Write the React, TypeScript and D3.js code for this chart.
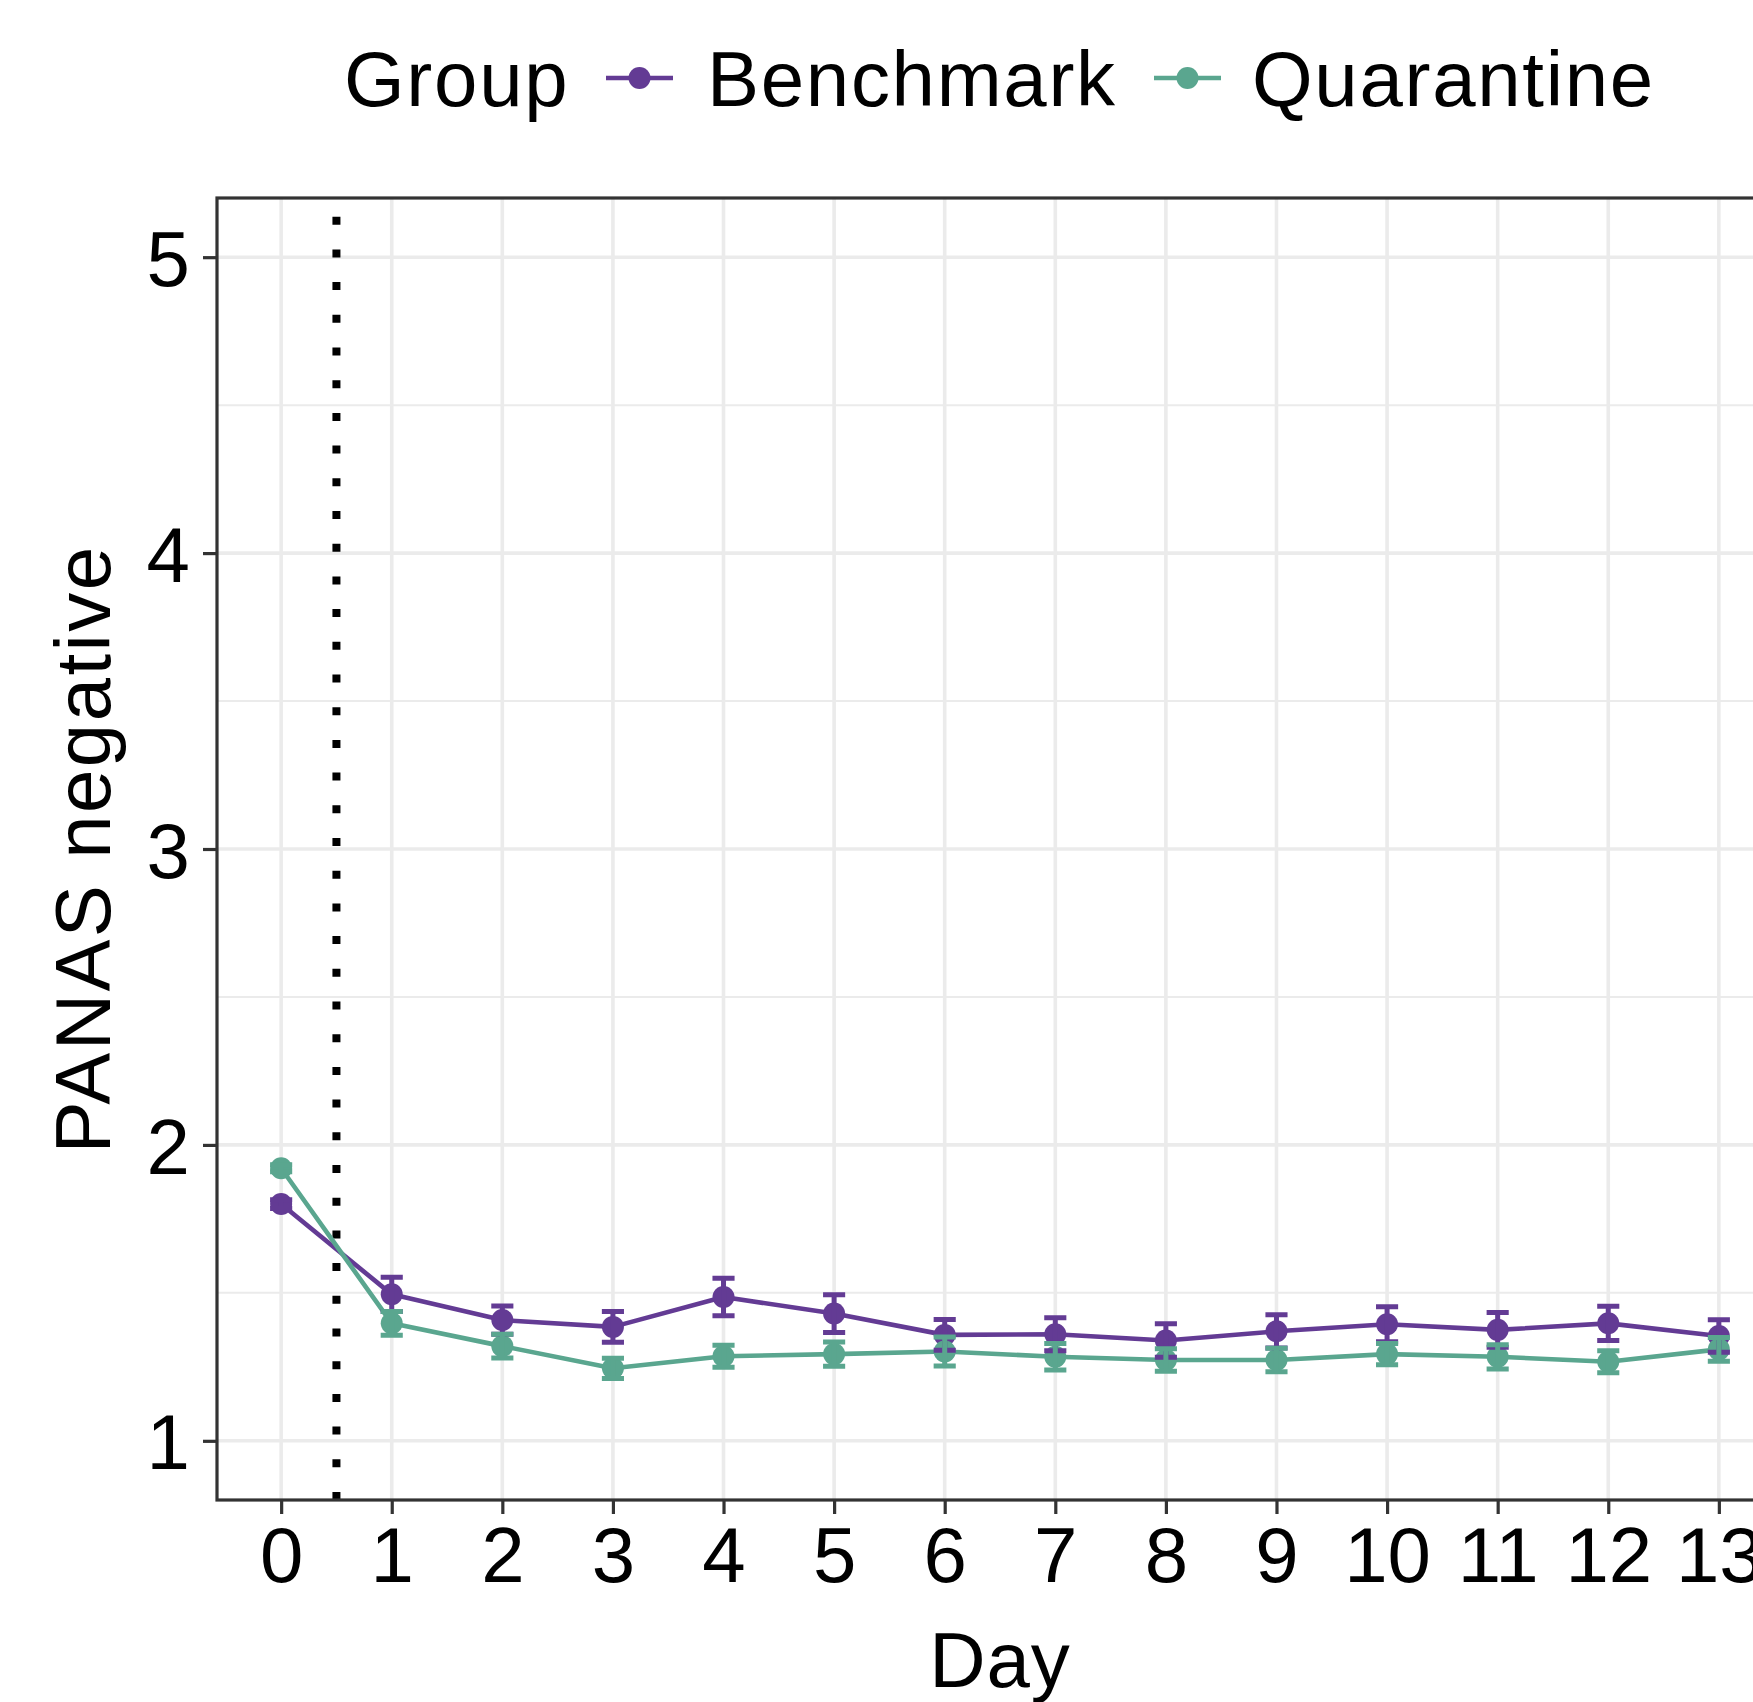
import React, { useEffect, useRef } from 'react';
import * as d3 from 'd3';

// Days on the x axis
const days = [0, 1, 2, 3, 4, 5, 6, 7, 8, 9, 10, 11, 12, 13];

// Mean PANAS negative score per day, with standard errors
const benchmarkMean = [1.8, 1.495, 1.408, 1.385, 1.486, 1.43, 1.358, 1.36, 1.339, 1.37, 1.394, 1.375, 1.397, 1.354];
const benchmarkSe = [0.015, 0.058, 0.048, 0.052, 0.063, 0.064, 0.052, 0.056, 0.057, 0.056, 0.059, 0.059, 0.058, 0.055];
const quarantineMean = [1.921, 1.397, 1.32, 1.245, 1.286, 1.293, 1.302, 1.284, 1.273, 1.273, 1.293, 1.284, 1.267, 1.309];
const quarantineSe = [0.012, 0.04, 0.04, 0.034, 0.037, 0.041, 0.049, 0.045, 0.038, 0.04, 0.036, 0.041, 0.037, 0.04];

const yTicks = [1, 2, 3, 4, 5];
const yMinor = [1.5, 2.5, 3.5, 4.5];

const groups = ['Benchmark', 'Quarantine'];
const colors = ['#633b94', '#5aa68f'];

const W = 1753;
const H = 1702;
const FONT = "'Liberation Sans', Arial, Helvetica, sans-serif";

export default function App() {
  const ref = useRef<SVGSVGElement>(null);

  useEffect(() => {
    const svg = d3.select(ref.current);
    svg.selectAll('*').remove();

    const left = 217;
    const top = 198;
    const bottom = 1500;
    const right = 1783;

    const x = d3.scalePoint<number>().domain(days).range([left, right]).padding(0.58);
    const y = d3.scaleLinear().domain([0.8, 5.2]).range([bottom, top]);
    const step = x.step();

    const series = [
      { name: groups[0], color: colors[0], mean: benchmarkMean, se: benchmarkSe },
      { name: groups[1], color: colors[1], mean: quarantineMean, se: quarantineSe },
    ];

    svg.append('rect').attr('width', W).attr('height', H).attr('fill', 'white');

    // grid
    const grid = svg.append('g');
    grid.selectAll('.minor')
      .data(yMinor)
      .enter()
      .append('line')
        .attr('x1', left).attr('x2', right)
        .attr('y1', d => y(d)).attr('y2', d => y(d))
        .attr('stroke', '#ebebeb').attr('stroke-width', 2);
    grid.selectAll('.majorY')
      .data(yTicks)
      .enter()
      .append('line')
        .attr('x1', left).attr('x2', right)
        .attr('y1', d => y(d)).attr('y2', d => y(d))
        .attr('stroke', '#ebebeb').attr('stroke-width', 3.6);
    grid.selectAll('.majorX')
      .data(days)
      .enter()
      .append('line')
        .attr('x1', d => x(d)!).attr('x2', d => x(d)!)
        .attr('y1', top).attr('y2', bottom)
        .attr('stroke', '#ebebeb').attr('stroke-width', 3.6);

    // dotted line between day 0 and day 1
    const vx = (x(0)! + x(1)!) / 2;
    svg.append('line')
      .attr('x1', vx).attr('x2', vx)
      .attr('y1', bottom).attr('y2', top)
      .attr('stroke', 'black')
      .attr('stroke-width', 8)
      .attr('stroke-dasharray', '8 24.7');

    const line = d3.line<number>()
      .x((d, i) => x(days[i])!)
      .y(d => y(d));

    series.forEach(s => {
      svg.append('path')
        .attr('d', line(s.mean))
        .attr('fill', 'none')
        .attr('stroke', s.color)
        .attr('stroke-width', 4.6)
        .attr('stroke-linejoin', 'round');
    });

    series.forEach(s => {
      svg.append('g')
        .selectAll('circle')
        .data(s.mean)
        .enter()
        .append('circle')
          .attr('cx', (d, i) => x(days[i])!)
          .attr('cy', d => y(d))
          .attr('r', 11)
          .attr('fill', s.color);
    });

    const cap = step * 0.1;
    series.forEach(s => {
      const g = svg.append('g')
        .attr('stroke', s.color)
        .attr('stroke-width', 5)
        .attr('fill', 'none');
      s.mean.forEach((m, i) => {
        const cx = x(days[i])!;
        const lo = y(m - s.se[i]);
        const hi = y(m + s.se[i]);
        g.append('path')
          .attr('d', `M${cx - cap},${hi}H${cx + cap}M${cx},${hi}V${lo}M${cx - cap},${lo}H${cx + cap}`);
      });
    });

    // panel border
    svg.append('rect')
      .attr('x', left).attr('y', top)
      .attr('width', right - left).attr('height', bottom - top)
      .attr('fill', 'none')
      .attr('stroke', '#333333')
      .attr('stroke-width', 3.2);

    // axes
    const xAxis = d3.axisBottom(x).tickSize(14).tickPadding(13).tickSizeOuter(0);
    const gx = svg.append('g')
      .attr('transform', `translate(0,${bottom})`)
      .call(xAxis);
    const yAxis = d3.axisLeft(y)
      .tickValues(yTicks)
      .tickFormat(d3.format('d'))
      .tickSize(14)
      .tickPadding(13)
      .tickSizeOuter(0);
    const gy = svg.append('g')
      .attr('transform', `translate(${left},0)`)
      .call(yAxis);
    [gx, gy].forEach(g => {
      g.select('.domain').remove();
      g.selectAll('.tick line').attr('stroke', '#333333').attr('stroke-width', 3.2);
      g.selectAll('.tick text')
        .attr('fill', 'black')
        .style('font-family', FONT)
        .style('font-size', '78px');
    });
    gy.selectAll('.tick text').attr('dy', '0.36em');

    // axis titles
    svg.append('text')
      .attr('x', (left + right) / 2)
      .attr('y', 1687)
      .attr('text-anchor', 'middle')
      .style('font-family', FONT)
      .style('font-size', '78px')
      .style('letter-spacing', '1px')
      .text('Day');
    svg.append('text')
      .attr('transform', `translate(110,${(top + bottom) / 2}) rotate(-90)`)
      .attr('text-anchor', 'middle')
      .style('font-family', FONT)
      .style('font-size', '78px')
      .style('letter-spacing', '2.4px')
      .text('PANAS negative');

    // legend
    const legend = svg.append('g')
      .style('font-family', FONT)
      .style('font-size', '78px')
      .style('letter-spacing', '1.7px');
    legend.append('text').attr('x', 344).attr('y', 106).text('Group');
    const keys = [
      { x1: 606, text: 707 },
      { x1: 1154, text: 1252 },
    ];
    keys.forEach((k, i) => {
      legend.append('line')
        .attr('x1', k.x1).attr('x2', k.x1 + 67)
        .attr('y1', 78).attr('y2', 78)
        .attr('stroke', colors[i]).attr('stroke-width', 4.6);
      legend.append('circle')
        .attr('cx', k.x1 + 33.5).attr('cy', 78).attr('r', 11)
        .attr('fill', colors[i]);
      legend.append('text').attr('x', k.text).attr('y', 106).text(groups[i]);
    });
  }, []);

  return (
    <svg
      ref={ref}
      width={W}
      height={H}
      style={{ position: 'absolute', left: 0, top: 0, display: 'block' }}
    />
  );
}
